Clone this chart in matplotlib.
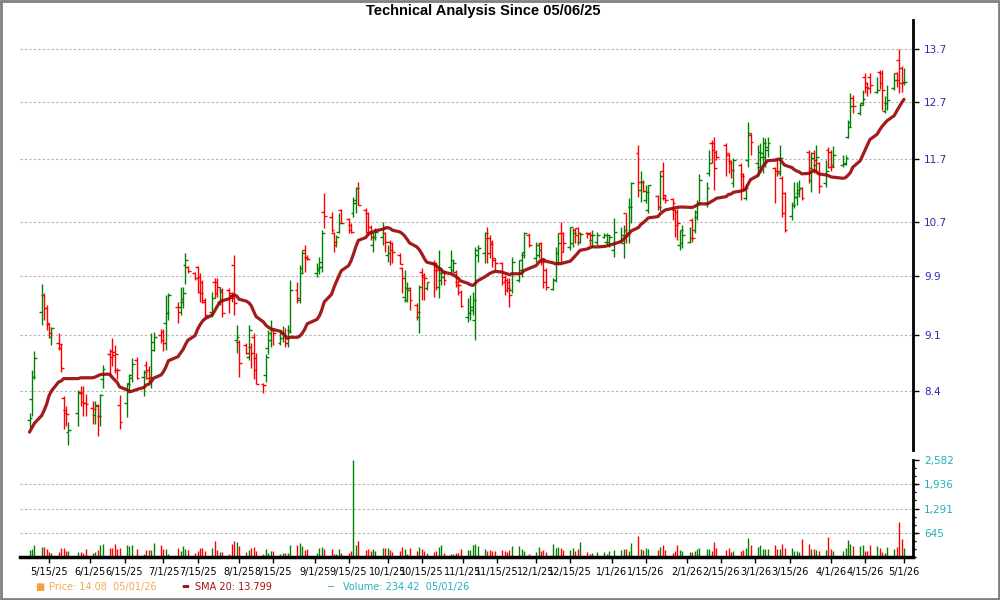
import numpy as np
import pandas as pd
import matplotlib
matplotlib.use("Agg")
import matplotlib.pyplot as plt
import matplotlib.dates as mdates
from matplotlib.patches import Rectangle
from matplotlib.ticker import FixedLocator, FixedFormatter, NullFormatter, MultipleLocator, NullLocator

plt.rcParams['font.family'] = ['DejaVu Sans']

# ---------------- data ----------------
HOLIDAYS = ["2025-05-26", "2025-06-19", "2025-07-04", "2025-09-01", "2025-11-27",
            "2025-12-25", "2026-01-01", "2026-01-19", "2026-02-16", "2026-04-03"]
dates = pd.bdate_range("2025-05-07", "2026-05-01")
dates = dates[~dates.isin(pd.to_datetime(HOLIDAYS))]

opens = [
    8.06, 8.30, 8.57, 9.40, 9.64, 9.46, 9.24, 9.08, 9.00, 8.93, 8.32, 8.18, 7.92, 8.14, 8.38, 8.37, 8.26,
    8.20, 8.12, 8.23, 8.10, 8.54, 8.85, 8.89, 8.88, 8.66, 8.23, 8.26, 8.50, 8.56, 8.78, 8.57, 8.72, 8.66, 8.56, 9.01, 9.10,
    9.14, 9.26, 9.39, 9.47, 9.47, 9.54, 10.06, 10.03, 9.95, 10.03, 9.89, 9.81, 9.57, 9.40, 9.82, 9.81, 9.54, 9.71, 9.71, 9.67, 10.06, 9.04,
    9.01, 8.97, 8.82, 8.94, 9.08, 8.81, 8.48, 8.60, 8.93, 9.04, 9.17, 9.00, 9.06, 9.13, 9.00, 9.17, 9.71, 9.57, 10.02, 10.28, 10.18,
    9.95, 9.99, 10.03, 10.85, 10.77, 10.53, 10.35, 10.54, 10.88, 10.75, 10.65, 10.83, 10.99, 11.23, 10.88, 10.84, 10.62, 10.35, 10.47, 10.47, 10.53,
    10.20, 10.39, 10.38, 10.20, 10.02, 9.61, 9.57, 9.74, 9.50, 9.34, 9.96, 9.92, 9.74, 10.09, 10.09, 9.75, 9.85, 9.96, 10.03, 9.99, 9.96, 9.82, 9.68,
    9.34, 9.39, 9.43, 9.30, 10.20, 10.23, 10.45, 10.45, 10.39, 10.13, 10.09, 9.89, 9.85, 9.82, 9.71, 9.85, 9.99, 10.20, 10.50,
    10.16, 10.20, 10.38, 10.10, 9.99, 9.72, 9.85, 10.09, 10.53, 10.53, 10.32, 10.38, 10.57, 10.60, 10.39, 10.53, 10.53, 10.42, 10.39, 10.47, 10.39, 10.39,
    10.28, 10.42, 10.38, 10.84, 10.53, 10.93, 11.80, 11.20, 11.33, 11.04, 10.88, 11.10, 10.93, 11.50, 11.07, 11.05, 10.88, 10.85, 10.35, 10.38,
    10.39, 10.73, 10.57, 10.78, 10.99, 10.99, 11.48, 11.98, 11.98, 11.83, 11.95, 11.78, 11.68, 11.31, 11.61, 11.45, 11.07, 11.69, 12.12,
    11.64, 11.58, 11.74, 11.74, 11.86, 11.56, 11.69, 11.48, 11.39, 11.15, 10.79, 10.96, 11.09, 11.15, 11.23, 11.83, 11.36, 11.81, 11.61, 11.64, 11.31, 11.86,
    11.83, 11.61, 11.61, 11.64, 12.08, 12.35, 12.78, 12.51, 12.69, 13.16, 13.05, 13.16, 12.89, 13.25, 13.23, 12.53, 12.69, 12.96, 13.23, 13.49, 13.33, 13.05,
]
highs = [
    8.14, 8.66, 8.89, 9.79, 9.67, 9.50, 9.26, 9.20, 9.12, 8.98, 8.34, 8.22, 8.03, 8.41, 8.46, 8.46, 8.36,
    8.28, 8.28, 8.24, 8.36, 8.72, 8.92, 9.06, 8.97, 8.68, 8.35, 8.50, 8.61, 8.81, 8.82, 8.66, 8.77, 8.70, 9.13, 9.14, 9.18,
    9.18, 9.64, 9.67, 9.54, 9.75, 9.75, 10.24, 10.04, 9.96, 10.04, 9.95, 9.85, 9.60, 9.68, 9.88, 9.88, 9.75, 9.74, 9.74, 9.68, 10.21, 9.23,
    9.04, 9.00, 9.23, 9.00, 9.13, 8.87, 8.50, 8.85, 9.17, 9.30, 9.19, 9.17, 9.22, 9.19, 9.23, 9.85, 9.82, 10.06, 10.28, 10.35, 10.20,
    10.09, 10.17, 10.57, 11.15, 10.85, 10.54, 10.50, 10.84, 10.90, 10.76, 10.68, 11.09, 11.25, 11.33, 10.91, 10.85, 10.65, 10.54, 10.60, 10.70, 10.54,
    10.35, 10.42, 10.39, 10.23, 10.03, 9.99, 9.81, 9.75, 9.53, 9.78, 10.02, 9.95, 9.82, 10.13, 10.10, 10.28, 10.03, 9.99, 10.28, 10.13, 9.99, 9.85, 9.71,
    9.60, 9.64, 9.68, 10.32, 10.35, 10.54, 10.62, 10.50, 10.42, 10.16, 10.10, 9.92, 9.88, 9.88, 10.17, 10.13, 10.25, 10.54, 10.53,
    10.39, 10.38, 10.39, 10.13, 10.02, 9.88, 10.32, 10.53, 10.70, 10.54, 10.62, 10.60, 10.60, 10.62, 10.54, 10.54, 10.54, 10.57, 10.54, 10.53, 10.53, 10.50,
    10.76, 10.62, 10.65, 10.84, 11.07, 11.33, 11.95, 11.50, 11.36, 11.28, 11.28, 11.12, 11.50, 11.66, 11.12, 11.07, 10.90, 10.90, 10.57, 10.65,
    10.62, 10.76, 10.88, 11.04, 11.45, 11.33, 11.86, 12.03, 12.08, 11.86, 11.98, 11.81, 11.69, 11.72, 11.64, 11.48, 11.28, 12.35, 12.15,
    11.95, 11.98, 12.08, 12.06, 12.08, 11.58, 11.72, 11.95, 11.42, 11.17, 11.01, 11.33, 11.33, 11.36, 11.25, 11.86, 11.83, 11.86, 11.95, 11.66, 11.69, 11.90,
    11.86, 11.92, 11.78, 11.78, 12.38, 12.87, 12.83, 12.69, 12.92, 13.23, 13.07, 13.23, 13.16, 13.29, 13.29, 12.80, 13.01, 13.23, 13.25, 13.70, 13.37, 13.33,
]
lows = [
    7.97, 8.10, 8.54, 9.23, 9.30, 9.17, 9.06, 8.97, 8.91, 8.63, 7.95, 7.99, 7.78, 7.99, 8.22, 8.11, 8.11,
    8.01, 8.01, 7.88, 7.99, 8.44, 8.57, 8.70, 8.62, 8.55, 7.95, 8.09, 8.38, 8.51, 8.55, 8.34, 8.54, 8.51, 8.44, 8.89, 9.00,
    8.90, 8.91, 9.30, 9.26, 9.36, 9.46, 9.79, 9.95, 9.85, 9.67, 9.54, 9.53, 9.34, 9.34, 9.60, 9.61, 9.50, 9.34, 9.39, 9.54, 9.36, 8.87,
    8.57, 8.85, 8.78, 8.68, 8.54, 8.48, 8.37, 8.51, 8.85, 8.94, 8.97, 8.97, 9.01, 8.94, 8.94, 9.14, 9.53, 9.53, 9.95, 9.96, 10.13,
    9.89, 9.93, 9.96, 10.60, 10.54, 10.25, 10.32, 10.53, 10.68, 10.53, 10.53, 10.78, 10.83, 10.96, 10.53, 10.50, 10.42, 10.25, 10.42, 10.35, 10.25,
    10.10, 10.06, 10.09, 10.07, 9.67, 9.54, 9.54, 9.43, 9.30, 9.13, 9.57, 9.57, 9.71, 9.61, 9.71, 9.60, 9.78, 9.78, 9.95, 9.96, 9.75, 9.64, 9.47,
    9.27, 9.30, 9.36, 9.04, 10.10, 10.09, 10.09, 10.16, 10.03, 9.99, 9.78, 9.64, 9.68, 9.47, 9.67, 9.81, 9.89, 10.16, 10.32,
    10.10, 10.16, 10.06, 9.74, 9.71, 9.71, 9.82, 10.06, 10.10, 10.25, 10.28, 10.32, 10.38, 10.35, 10.38, 10.45, 10.35, 10.32, 10.35, 10.45, 10.35, 10.32,
    10.17, 10.39, 10.16, 10.38, 10.38, 10.68, 11.09, 11.01, 11.17, 10.99, 10.84, 10.88, 10.87, 11.04, 10.99, 10.73, 10.47, 10.42, 10.28, 10.31,
    10.38, 10.39, 10.53, 10.73, 10.96, 10.93, 11.42, 11.64, 11.20, 11.69, 11.42, 11.48, 11.39, 11.25, 11.04, 11.20, 11.04, 11.58, 11.78,
    11.42, 11.50, 11.48, 11.58, 11.74, 10.99, 11.42, 11.42, 10.78, 10.54, 10.73, 10.91, 10.96, 11.09, 11.04, 11.31, 11.17, 11.48, 11.50, 11.15, 11.25, 11.56,
    11.50, 11.58, 11.58, 11.61, 12.06, 12.26, 12.51, 12.47, 12.65, 12.87, 12.80, 12.87, 12.87, 12.94, 12.56, 12.51, 12.56, 12.92, 12.98, 12.87, 12.89, 13.01,
]
closes = [
    8.08, 8.57, 8.80, 9.64, 9.46, 9.26, 9.13, 9.19, 8.99, 8.68, 8.14, 8.13, 7.94, 8.39, 8.27, 8.26, 8.25,
    8.19, 8.22, 8.10, 8.35, 8.67, 8.82, 8.84, 8.86, 8.65, 8.04, 8.49, 8.59, 8.73, 8.56, 8.63, 8.56, 8.57, 8.91, 9.08, 9.04,
    9.00, 9.39, 9.64, 9.40, 9.58, 9.67, 10.13, 9.97, 9.88, 9.68, 9.67, 9.54, 9.37, 9.60, 9.67, 9.75, 9.68, 9.39, 9.64, 9.60, 9.53, 9.08,
    8.74, 8.87, 9.17, 8.87, 8.66, 8.48, 8.47, 8.82, 9.13, 9.17, 9.13, 9.13, 9.10, 9.00, 9.14, 9.71, 9.60, 9.95, 10.24, 10.16, 10.15,
    10.02, 10.10, 10.53, 10.79, 10.57, 10.39, 10.47, 10.68, 10.68, 10.57, 10.54, 11.04, 11.23, 10.96, 10.54, 10.54, 10.47, 10.47, 10.54, 10.60, 10.39,
    10.23, 10.28, 10.25, 10.07, 9.88, 9.74, 9.71, 9.57, 9.40, 9.75, 9.89, 9.88, 9.81, 9.99, 9.99, 9.95, 9.89, 9.85, 10.13, 10.09, 9.78, 9.78, 9.49,
    9.39, 9.47, 9.57, 10.28, 10.31, 10.53, 10.23, 10.37, 10.16, 10.09, 9.81, 9.71, 9.74, 9.64, 10.10, 10.13, 10.25, 10.53, 10.35,
    10.35, 10.28, 10.10, 9.82, 9.75, 9.85, 10.23, 10.38, 10.25, 10.38, 10.62, 10.53, 10.50, 10.53, 10.51, 10.51, 10.50, 10.50, 10.50, 10.50, 10.50, 10.47,
    10.54, 10.50, 10.57, 10.53, 10.93, 11.31, 11.33, 11.33, 11.18, 11.17, 11.28, 10.93, 11.42, 11.12, 11.04, 10.99, 10.65, 10.68, 10.57, 10.50,
    10.45, 10.45, 10.85, 10.99, 11.36, 11.23, 11.64, 11.86, 11.56, 11.74, 11.81, 11.64, 11.53, 11.69, 11.42, 11.20, 11.23, 12.15, 12.00,
    11.83, 11.81, 11.98, 11.90, 11.98, 11.51, 11.50, 11.72, 10.84, 10.57, 10.96, 11.09, 11.20, 11.23, 11.07, 11.56, 11.72, 11.69, 11.74, 11.26, 11.50, 11.58,
    11.58, 11.78, 11.63, 11.72, 12.26, 12.63, 12.63, 12.65, 12.76, 12.98, 12.96, 13.01, 12.92, 13.05, 12.92, 12.69, 12.74, 13.11, 13.10, 13.05, 13.07, 13.07,
]
volumes = [
    180, 205, 330, 275, 275, 205, 140, 115, 140, 230, 230, 160, 170, 140, 140, 115, 220,
    115, 140, 175, 310, 355, 230, 230, 355, 205, 250, 330, 290, 330, 220, 90, 175, 195, 175, 365, 330,
    205, 205, 90, 250, 150, 285, 205, 175, 115, 150, 230, 230, 150, 230, 415, 175, 140, 140, 90, 355, 415, 400,
    295, 140, 175, 240, 275, 150, 90, 205, 115, 150, 150, 70, 100, 115, 115, 310, 310, 380, 295, 175, 205,
    115, 250, 275, 205, 205, 90, 70, 205, 115, 100, 150, 2582, 330, 415, 175, 205, 150, 205, 150, 230, 230,
    230, 175, 140, 150, 275, 205, 90, 230, 150, 275, 220, 150, 115, 140, 150, 275, 310, 115, 90, 90, 105, 105, 220,
    175, 175, 310, 335, 295, 205, 150, 175, 150, 150, 195, 160, 135, 195, 295, 295, 220, 160, 90,
    135, 265, 160, 195, 135, 345, 240, 265, 240, 195, 195, 240, 160, 220, 400, 135, 70, 105, 135, 135, 70, 160,
    195, 195, 220, 220, 160, 370, 560, 220, 195, 240, 220, 195, 265, 330, 195, 105, 160, 330, 195, 160,
    135, 135, 170, 220, 240, 220, 220, 160, 400, 250, 195, 250, 135, 160, 160, 175, 250, 515, 330,
    265, 330, 220, 220, 220, 330, 220, 220, 355, 250, 250, 160, 160, 135, 490, 355, 220, 220, 195, 160, 195, 530,
    220, 160, 160, 240, 460, 355, 285, 295, 330, 150, 160, 330, 295, 250, 135, 115, 265, 220, 265, 930, 490, 234,
]
# SMA 20 for the first 19 sessions (earlier history not shown)
sma_early = [7.92, 7.97, 8.02, 8.11, 8.17, 8.24, 8.34, 8.40, 8.51, 8.52,
             8.55, 8.55, 8.55, 8.55, 8.56, 8.56, 8.56, 8.56, 8.57]

price_ticks = [8.4, 9.1, 9.9, 10.7, 11.7, 12.7, 13.7]
price_tick_labels = ["8.4", "9.1", "9.9", "10.7", "11.7", "12.7", "13.7"]
vol_ticks = [645, 1291, 1936, 2582]
vol_tick_labels = ["645", "1,291", "1,936", "2,582"]
vol_grid = [645, 1291, 1936]
date_ticks = ["2025-05-15", "2025-06-01", "2025-06-15", "2025-07-01", "2025-07-15", "2025-08-01",
              "2025-08-15", "2025-09-01", "2025-09-15", "2025-10-01", "2025-10-15", "2025-11-01",
              "2025-11-15", "2025-12-01", "2025-12-15", "2026-01-01", "2026-01-15", "2026-02-01",
              "2026-02-15", "2026-03-01", "2026-03-15", "2026-04-01", "2026-04-15", "2026-05-01"]
date_tick_labels = ["5/15/25", "6/1/25", "6/15/25", "7/1/25", "7/15/25", "8/1/25", "8/15/25",
                    "9/1/25", "9/15/25", "10/1/25", "10/15/25", "11/1/25", "11/15/25", "12/1/25",
                    "12/15/25", "1/1/26", "1/15/26", "2/1/26", "2/15/26", "3/1/26", "3/15/26",
                    "4/1/26", "4/15/26", "5/1/26"]

# ---------------- figure ----------------
o = np.array(opens); h = np.array(highs); l = np.array(lows); c = np.array(closes)
v = np.array(volumes, dtype=float)
x = mdates.date2num(dates.to_pydatetime())
sma = pd.Series(c).rolling(20).mean().to_numpy()
sma[:19] = sma_early

GREEN = '#008000'
RED = '#ff0000'
col = np.where(c >= o, GREEN, RED)

W, H = 1000, 600
fig = plt.figure(figsize=(10, 6), dpi=100)
fig.patches.append(Rectangle((0.001, 0.0015), 0.998, 0.997, transform=fig.transFigure,
                             fill=False, edgecolor='#808080', lw=2))

def fax(left, top, right, bottom):
    return [left / W, 1 - bottom / H, (right - left) / W, (bottom - top) / H]

ax = fig.add_axes(fax(20, 20, 913, 450))
axv = fig.add_axes(fax(20, 460, 913, 557), sharex=ax)

x0 = mdates.date2num(pd.Timestamp("2025-05-15"))
ax.set_xlim(x0 - 11.9, x0 + 354.7)

# price bars
ax.set_yscale('log')
ax.set_ylim(7.72, 14.28)
ax.vlines(x, l, h, colors=col, lw=1.0, zorder=3)
ax.hlines(o, x - 1.15, x, colors=col, lw=1.0, zorder=3)
ax.hlines(c, x, x + 1.15, colors=col, lw=1.0, zorder=3)
ax.plot(x, sma, color='#9a0808', lw=2.3, alpha=0.92, zorder=4, solid_capstyle='round')

ax.yaxis.set_major_locator(FixedLocator(price_ticks))
ax.yaxis.set_major_formatter(FixedFormatter(price_tick_labels))
ax.yaxis.set_minor_locator(NullLocator())
ax.yaxis.set_minor_formatter(NullFormatter())
ax.yaxis.tick_right()
ax.tick_params(axis='y', which='major', direction='out', length=4, width=1, color='black',
               labelcolor='#2a2ab0', labelsize=7.5, pad=4)
ax.tick_params(axis='x', which='both', bottom=False, labelbottom=False)
ax.grid(axis='y', which='major', ls=(0, (2, 2)), color='#b4b4b4', lw=0.8)
for s in ['left', 'top', 'bottom']:
    ax.spines[s].set_visible(False)
ax.spines['right'].set_linewidth(2)

# volume
axv.set_ylim(0, 2582)
axv.vlines(x, 0, v, colors=col, lw=1.0)
for g in vol_grid:
    axv.axhline(g, ls=(0, (2, 2)), color='#b4b4b4', lw=0.8, zorder=0)
axv.yaxis.set_major_locator(FixedLocator(vol_ticks))
axv.yaxis.set_major_formatter(FixedFormatter(vol_tick_labels))
axv.yaxis.set_minor_locator(MultipleLocator(2582 / 12))
axv.yaxis.tick_right()
axv.tick_params(axis='y', which='major', direction='out', length=4, width=1,
                labelcolor='#20b0b8', labelsize=7.5, pad=4)
axv.tick_params(axis='y', which='minor', direction='out', length=2.5, width=1)
axv.xaxis.set_major_locator(FixedLocator(mdates.date2num(pd.to_datetime(date_ticks).to_pydatetime())))
axv.xaxis.set_major_formatter(FixedFormatter(date_tick_labels))
axv.tick_params(axis='x', which='major', direction='out', length=4, width=1,
                labelsize=7, labelcolor='black', pad=3)
for s in ['left', 'top']:
    axv.spines[s].set_visible(False)
axv.spines['right'].set_linewidth(2)
axv.spines['bottom'].set_linewidth(2.5)

# title and legend
fig.text(483 / W, 1 - 11 / H, "Technical Analysis Since 05/06/25", ha='center', va='center',
         fontsize=10.5, fontweight='bold', family=['Liberation Sans', 'DejaVu Sans'])
ly = 1 - 587 / H
fig.text(35 / W, ly, "■", color='#f5a040', fontsize=7, va='center')
fig.text(49 / W, ly, "Price: 14.08  05/01/26", color='#f5a850', fontsize=7, va='center')
fig.text(181 / W, ly, "▬", color='#b01010', fontsize=6, va='center')
fig.text(195 / W, ly, "SMA 20: 13.799", color='#a01010', fontsize=7, va='center')
fig.text(327 / W, ly, "−", color='#20b0b8', fontsize=7, va='center')
fig.text(343 / W, ly, "Volume: 234.42  05/01/26", color='#20b0b8', fontsize=7, va='center')

fig.savefig("out.png", dpi=100)
